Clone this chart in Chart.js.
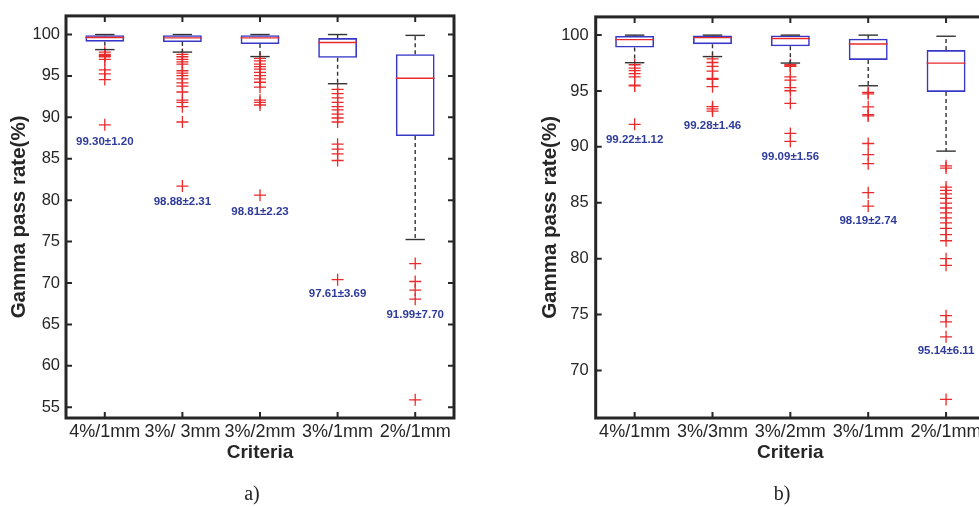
<!DOCTYPE html>
<html>
<head>
<meta charset="utf-8">
<script src="https://cdn.jsdelivr.net/npm/chart.js@4.4.1/dist/chart.umd.min.js"></script>
<style>
  html, body { margin: 0; padding: 0; background: #fff; overflow: hidden; width: 979px; height: 507px; }
  .panel { position: absolute; top: 0; height: 507px; }
  #panel-a { left: 0; width: 490px; }
  #panel-b { left: 520px; width: 480px; }
  .caption { position: absolute; top: 482px; width: 60px; text-align: center;
    font: 20px "Liberation Serif", "Times New Roman", serif; color: #222; }
</style>
</head>
<body>
<div class="panel" id="panel-a"><canvas id="chart-a"></canvas></div>
<div class="panel" id="panel-b"><canvas id="chart-b"></canvas></div>
<div class="caption" style="left:222px">a)</div>
<div class="caption" style="left:752px">b)</div>
<script>
// panel a
const criteriaA = ['4%/1mm', '3%/ 3mm', '3%/2mm', '3%/1mm', '2%/1mm'];
const q1A = [99.14, 99.10, 98.86, 97.20, 87.74];
const medianA = [99.65, 99.60, 99.60, 99.03, 94.72];
const q3A = [99.92, 99.92, 99.92, 99.57, 97.62];
const lowA = [98.18, 97.88, 97.34, 94.06, 75.25];
const highA = [100, 100, 100, 100, 99.9];
const outliersA = [
    [97.87, 97.6, 97.45, 97.32, 97.0, 95.74, 95.24, 94.56, 89.1],
    [97.6, 97.32, 97.0, 96.69, 96.42, 95.63, 95.35, 95.04, 94.65, 94.17, 93.77, 93.06, 92.08, 91.8, 91.29, 89.44, 81.7],
    [97.12, 96.81, 96.42, 96.13, 95.83, 95.43, 95.04, 94.65, 94.24, 93.65, 92.08, 91.8, 91.49, 80.6],
    [93.38, 92.87, 92.36, 91.81, 91.29, 90.9, 90.39, 89.92, 89.44, 86.76, 86.17, 85.58, 84.79, 70.4],
    [72.34, 70.18, 69.15, 68.05, 55.9],
];
const statsTextA = ['99.30±1.20', '98.88±2.31', '98.81±2.23', '97.61±3.69', '91.99±7.70'];
const statsAtA = [87.0, 79.75, 78.6, 68.7, 66.1];

// panel b
const criteriaB = ['4%/1mm', '3%/3mm', '3%/2mm', '3%/1mm', '2%/1mm'];
const q1B = [98.89, 99.19, 99.0, 97.78, 94.92];
const medianB = [99.6, 99.78, 99.7, 99.2, 97.49];
const q3B = [99.92, 99.97, 99.97, 99.68, 98.66];
const lowB = [97.53, 98.08, 97.5, 95.47, 89.62];
const highB = [100, 100, 100, 100, 99.9];
const outliersB = [
    [97.35, 97.05, 96.83, 96.56, 96.27, 95.52, 95.45, 92.02],
    [97.88, 97.55, 97.2, 96.77, 96.13, 96.05, 95.39, 93.6, 93.4, 93.2],
    [97.35, 97.25, 97.2, 96.27, 95.98, 95.31, 95.02, 93.9, 91.2, 90.5],
    [94.87, 94.75, 93.58, 92.88, 92.77, 90.3, 89.3, 88.5, 85.9, 84.7],
    [88.3, 88.1, 86.4, 86.1, 85.8, 85.4, 84.97, 84.53, 84.09, 83.65, 83.2, 82.7, 82.15, 81.6, 80.0, 79.4, 74.9, 74.35, 73.0, 67.4],
];
const statsTextB = ['99.22±1.12', '99.28±1.46', '99.09±1.56', '98.19±2.74', '95.14±6.11'];
const statsAtB = [90.67, 91.84, 89.13, 83.42, 71.74];

const BLUE = '#3838c8';
const RED = '#ea2a2a';
const INK = '#262626';

Chart.defaults.font.family = '"Liberation Sans", Arial, sans-serif';
Chart.defaults.color = INK;

function boxParts(s) {
    return {
        id: 'boxParts',
        afterDatasetsDraw(chart) {
            const { ctx, scales: { x, y } } = chart;
            const boxes = chart.getDatasetMeta(0).data;
            const seg = (x1, y1, x2, y2) => {
                ctx.beginPath();
                ctx.moveTo(x1, y1);
                ctx.lineTo(x2, y2);
                ctx.stroke();
            };
            ctx.save();
            s.q1.forEach((q1, i) => {
                const cx = x.getPixelForValue(i);
                const half = boxes[i].width / 2;
                const cap = half / 2;
                const yHi = y.getPixelForValue(s.high[i]);
                const yLo = y.getPixelForValue(s.low[i]);

                ctx.strokeStyle = '#333';
                ctx.lineWidth = 1.4;
                ctx.setLineDash([4, 3]);
                seg(cx, y.getPixelForValue(s.q3[i]), cx, yHi);
                seg(cx, y.getPixelForValue(q1), cx, yLo);
                ctx.setLineDash([]);
                seg(cx - cap, yHi, cx + cap, yHi);
                seg(cx - cap, yLo, cx + cap, yLo);

                const yMed = y.getPixelForValue(s.median[i]);
                ctx.strokeStyle = RED;
                ctx.lineWidth = 1.4;
                seg(cx - half, yMed, cx + half, yMed);

                ctx.fillStyle = '#2f3b9c';
                ctx.font = 'bold 11.5px "Liberation Sans", Arial, sans-serif';
                ctx.textAlign = 'center';
                ctx.textBaseline = 'middle';
                ctx.fillText(s.text[i], cx, y.getPixelForValue(s.textAt[i]));
            });
            ctx.restore();
        },
    };
}

const frame = {
    id: 'frame',
    afterDraw(chart) {
        const { ctx, chartArea: a, scales: { x, y } } = chart;
        ctx.save();
        ctx.strokeStyle = INK;
        ctx.lineWidth = 2;
        ctx.beginPath();
        x.ticks.forEach((t, i) => {
            const px = x.getPixelForTick(i);
            ctx.moveTo(px, a.bottom); ctx.lineTo(px, a.bottom - 6);
            ctx.moveTo(px, a.top); ctx.lineTo(px, a.top + 6);
        });
        y.ticks.forEach((t, i) => {
            const py = y.getPixelForTick(i);
            ctx.moveTo(a.left, py); ctx.lineTo(a.left + 6, py);
            ctx.moveTo(a.right, py); ctx.lineTo(a.right - 6, py);
        });
        ctx.stroke();
        ctx.lineWidth = 3;
        ctx.strokeRect(a.left, a.top, a.right - a.left, a.bottom - a.top);
        ctx.restore();
    },
};

function makeChart(id, s, layout) {
    const points = [];
    s.outliers.forEach((list, i) => list.forEach((v) => points.push({ x: s.labels[i], y: v })));
    return new Chart(document.getElementById(id), {
        type: 'bar',
        data: {
            labels: s.labels,
            datasets: [
                {
                    type: 'bar',
                    data: s.q1.map((v, i) => [v, s.q3[i]]),
                    backgroundColor: 'rgba(0,0,0,0)',
                    borderColor: BLUE,
                    borderWidth: 1.6,
                    borderSkipped: false,
                    barPercentage: 0.5,
                    categoryPercentage: 1.0,
                },
                {
                    type: 'line',
                    data: points,
                    showLine: false,
                    pointStyle: 'cross',
                    pointRadius: 6,
                    pointBorderColor: RED,
                    pointBorderWidth: 1.3,
                },
            ],
        },
        options: {
            responsive: true,
            maintainAspectRatio: false,
            animation: false,
            layout: { padding: { top: 7, right: layout.right, left: 0, bottom: 0 } },
            plugins: { legend: { display: false }, tooltip: { enabled: false } },
            scales: {
                x: {
                    offset: true,
                    grid: { display: false, drawTicks: false },
                    border: { display: false },
                    ticks: { font: { size: 18 }, padding: 3, maxRotation: 0, autoSkip: false },
                    title: { display: true, text: 'Criteria', font: { size: 19, weight: 'bold' }, padding: { top: 0, bottom: 42.6 } },
                    afterFit: (scale) => { scale.height = 89; },
                },
                y: {
                    min: s.min,
                    max: s.max,
                    grid: { display: false, drawTicks: false },
                    border: { display: false },
                    ticks: { stepSize: 5, includeBounds: false, font: { size: 16.5 }, padding: layout.tickPad },
                    title: { display: true, text: 'Gamma pass rate(%)', font: { size: 20.5, weight: 'bold' }, padding: { top: layout.titlePad, bottom: 0 } },
                    afterFit: (scale) => { scale.width = layout.yWidth; },
                },
            },
        },
        plugins: [boxParts(s), frame],
    });
}

makeChart('chart-a', {
    labels: criteriaA, q1: q1A, median: medianA, q3: q3A, low: lowA, high: highA,
    outliers: outliersA, text: statsTextA, textAt: statsAtA, min: 53.7, max: 102.25,
}, { yWidth: 66, right: 36, tickPad: 6, titlePad: 7 });

makeChart('chart-b', {
    labels: criteriaB, q1: q1B, median: medianB, q3: q3B, low: lowB, high: highB,
    outliers: outliersB, text: statsTextB, textAt: statsAtB, min: 65.74, max: 101.63,
}, { yWidth: 75.7, right: 15, tickPad: 7, titlePad: 18 });
</script>
</body>
</html>
